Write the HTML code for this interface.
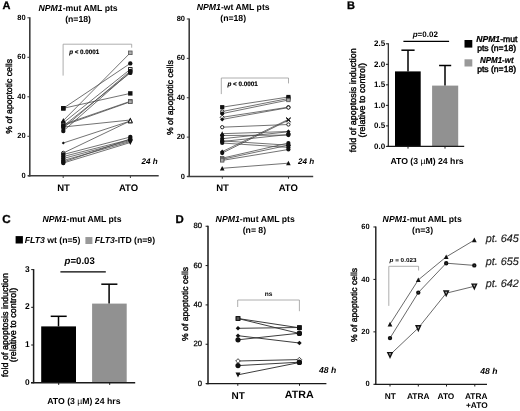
<!DOCTYPE html>
<html><head><meta charset="utf-8"><style>
html,body{margin:0;padding:0;background:#fff;}
svg{display:block;filter:grayscale(1);}
text{font-family:"Liberation Sans", sans-serif;text-rendering:geometricPrecision;}
</style></head><body>
<svg width="520" height="411" viewBox="0 0 520 411" font-family="Liberation Sans, sans-serif">
<rect width="520" height="411" fill="#fff"/>
<text x="2.5" y="8.6" font-size="11" font-weight="bold" text-anchor="start" fill="#000" stroke="#000" stroke-width="0.3">A</text>
<text x="347" y="8.8" font-size="11" font-weight="bold" text-anchor="start" fill="#000" stroke="#000" stroke-width="0.3">B</text>
<text x="2.2" y="222.5" font-size="11.6" font-weight="bold" text-anchor="start" fill="#000" stroke="#000" stroke-width="0.3">C</text>
<text x="175.5" y="222.6" font-size="11.4" font-weight="bold" text-anchor="start" fill="#000" stroke="#000" stroke-width="0.3">D</text>
<line x1="29.8" y1="17.3" x2="29.8" y2="176.4" stroke="#3c3c3c" stroke-width="1.6"/>
<line x1="27.4" y1="17.8" x2="29.8" y2="17.8" stroke="#3c3c3c" stroke-width="1"/>
<text x="25.6" y="19.9" font-size="7.5" font-weight="bold" text-anchor="end" fill="#000">80</text>
<line x1="27.4" y1="57.3" x2="29.8" y2="57.3" stroke="#3c3c3c" stroke-width="1"/>
<text x="25.6" y="59.4" font-size="7.5" font-weight="bold" text-anchor="end" fill="#000">60</text>
<line x1="27.4" y1="96.8" x2="29.8" y2="96.8" stroke="#3c3c3c" stroke-width="1"/>
<text x="25.6" y="98.9" font-size="7.5" font-weight="bold" text-anchor="end" fill="#000">40</text>
<line x1="27.4" y1="136.3" x2="29.8" y2="136.3" stroke="#3c3c3c" stroke-width="1"/>
<text x="25.6" y="138.4" font-size="7.5" font-weight="bold" text-anchor="end" fill="#000">20</text>
<line x1="27.4" y1="175.8" x2="29.8" y2="175.8" stroke="#3c3c3c" stroke-width="1"/>
<text x="25.6" y="177.9" font-size="7.5" font-weight="bold" text-anchor="end" fill="#000">0</text>
<line x1="28" y1="175.8" x2="158.7" y2="175.8" stroke="#3c3c3c" stroke-width="1.4"/>
<line x1="63.2" y1="175.8" x2="63.2" y2="178" stroke="#3c3c3c" stroke-width="1"/>
<line x1="130.4" y1="175.8" x2="130.4" y2="178" stroke="#3c3c3c" stroke-width="1"/>
<text transform="translate(12.4 96.3) rotate(-90)" x="0" y="0" font-size="8.7" font-weight="normal" text-anchor="middle" stroke="#000" stroke-width="0.38">% of apoptotic cells</text>
<text x="78.1" y="10.6" font-size="8.7" font-weight="bold" text-anchor="middle"><tspan font-style="italic">NPM1</tspan>-mut AML pts</text>
<text x="78.1" y="21.5" font-size="8.7" font-weight="bold" text-anchor="middle" fill="#000">(n=18)</text>
<polyline points="63.1,75.6 63.1,44.2 131.7,44.2 131.7,47.7" fill="none" stroke="#999" stroke-width="0.8"/>
<text x="69.2" y="54" font-size="6.4" font-weight="bold" stroke="#000" stroke-width="0.15" textLength="30" lengthAdjust="spacingAndGlyphs"><tspan font-style="italic">p</tspan> &lt; 0.0001</text>
<text x="141.5" y="164.4" font-size="8.1" font-weight="bold" text-anchor="start" font-style="italic" fill="#000">24 h</text>
<text x="63.5" y="190.5" font-size="9.5" font-weight="bold" text-anchor="middle" fill="#000">NT</text>
<text x="128.5" y="190.5" font-size="9.5" font-weight="bold" text-anchor="middle" fill="#000">ATO</text>
<line x1="63.3" y1="108.3" x2="130.3" y2="63.4" stroke="#444" stroke-width="0.75"/>
<line x1="63.3" y1="108.3" x2="130.3" y2="93.4" stroke="#444" stroke-width="0.75"/>
<line x1="63.3" y1="120.6" x2="130.3" y2="52.8" stroke="#444" stroke-width="0.75"/>
<line x1="63.3" y1="122.8" x2="130.3" y2="69.3" stroke="#444" stroke-width="0.75"/>
<line x1="63.3" y1="126" x2="130.3" y2="72.9" stroke="#444" stroke-width="0.75"/>
<line x1="63.3" y1="128" x2="130.3" y2="71" stroke="#444" stroke-width="0.75"/>
<line x1="63.3" y1="131" x2="130.3" y2="72" stroke="#444" stroke-width="0.75"/>
<line x1="63.3" y1="124.5" x2="130.3" y2="101.3" stroke="#444" stroke-width="0.75"/>
<line x1="63.3" y1="125.5" x2="130.3" y2="101.8" stroke="#444" stroke-width="0.75"/>
<line x1="63.3" y1="127" x2="130.3" y2="120" stroke="#444" stroke-width="0.75"/>
<line x1="63.3" y1="143" x2="130.3" y2="121" stroke="#444" stroke-width="0.75"/>
<line x1="63.3" y1="153" x2="130.3" y2="120.9" stroke="#444" stroke-width="0.75"/>
<line x1="63.3" y1="154.5" x2="130.3" y2="137" stroke="#444" stroke-width="0.75"/>
<line x1="63.3" y1="156.5" x2="130.3" y2="139.5" stroke="#444" stroke-width="0.75"/>
<line x1="63.3" y1="158.5" x2="130.3" y2="140.5" stroke="#444" stroke-width="0.75"/>
<line x1="63.3" y1="160.5" x2="130.3" y2="141.5" stroke="#444" stroke-width="0.75"/>
<line x1="63.3" y1="162" x2="130.3" y2="139" stroke="#444" stroke-width="0.75"/>
<line x1="63.3" y1="163" x2="130.3" y2="142.5" stroke="#444" stroke-width="0.75"/>
<rect x="61.1" y="106.1" width="4.4" height="4.4" fill="#111"/>
<circle cx="130.3" cy="63.4" r="2.2" fill="#111"/>
<rect x="61.1" y="106.1" width="4.4" height="4.4" fill="#111"/>
<rect x="128.1" y="91.2" width="4.4" height="4.4" fill="#111"/>
<polygon points="63.3,118.1 60.9,122.8 65.7,122.8" fill="#111"/>
<rect x="128.5" y="51" width="3.6" height="3.6" fill="#aaa" stroke="#555" stroke-width="0.8"/>
<circle cx="63.3" cy="122.8" r="2.2" fill="#111"/>
<rect x="128.55" y="67.55" width="3.5" height="3.5" fill="#fff" stroke="#111" stroke-width="0.9"/>
<circle cx="63.3" cy="126" r="2.2" fill="#111"/>
<circle cx="130.3" cy="72.9" r="2.2" fill="#111"/>
<circle cx="63.3" cy="128" r="2.2" fill="#111"/>
<circle cx="130.3" cy="71" r="2.2" fill="#111"/>
<circle cx="63.3" cy="131" r="2.2" fill="#111"/>
<circle cx="130.3" cy="72" r="2.2" fill="#111"/>
<circle cx="63.3" cy="124.5" r="1.75" fill="#fff" stroke="#111" stroke-width="0.9"/>
<rect x="128.5" y="99.5" width="3.6" height="3.6" fill="#aaa" stroke="#555" stroke-width="0.8"/>
<circle cx="63.3" cy="125.5" r="2.2" fill="#111"/>
<rect x="128.5" y="100" width="3.6" height="3.6" fill="#aaa" stroke="#555" stroke-width="0.8"/>
<polygon points="63.3,124.8 65.5,127 63.3,129.2 61.1,127" fill="#111"/>
<polygon points="130.3,117.5 127.9,122.2 132.7,122.2" fill="#111"/>
<polygon points="63.3,141.46 64.84,143 63.3,144.54 61.76,143" fill="#111"/>
<polygon points="130.3,118.5 127.9,123.2 132.7,123.2" fill="#111"/>
<circle cx="63.3" cy="153" r="1.75" fill="#fff" stroke="#111" stroke-width="0.9"/>
<polygon points="130.3,118.7 128.3,122.8 132.3,122.8" fill="#fff" stroke="#111" stroke-width="0.9"/>
<circle cx="63.3" cy="154.5" r="2.2" fill="#111"/>
<circle cx="130.3" cy="137" r="2.2" fill="#111"/>
<circle cx="63.3" cy="156.5" r="2.2" fill="#111"/>
<polygon points="130.3,137.3 132.5,139.5 130.3,141.7 128.1,139.5" fill="#111"/>
<circle cx="63.3" cy="158.5" r="2.2" fill="#111"/>
<polygon points="130.3,138.3 132.5,140.5 130.3,142.7 128.1,140.5" fill="#111"/>
<circle cx="63.3" cy="160.5" r="2.2" fill="#111"/>
<polygon points="130.3,144 127.9,139.3 132.7,139.3" fill="#111"/>
<circle cx="63.3" cy="162" r="2.2" fill="#111"/>
<circle cx="130.3" cy="139" r="2.2" fill="#111"/>
<circle cx="63.3" cy="163" r="2.2" fill="#111"/>
<polygon points="130.3,145 127.9,140.3 132.7,140.3" fill="#111"/>
<line x1="189.2" y1="18.48" x2="189.2" y2="177.1" stroke="#3c3c3c" stroke-width="1.6"/>
<line x1="186.8" y1="18.98" x2="189.2" y2="18.98" stroke="#3c3c3c" stroke-width="1"/>
<text x="185" y="21.08" font-size="7.5" font-weight="bold" text-anchor="end" fill="#000">80</text>
<line x1="186.8" y1="58.36" x2="189.2" y2="58.36" stroke="#3c3c3c" stroke-width="1"/>
<text x="185" y="60.46" font-size="7.5" font-weight="bold" text-anchor="end" fill="#000">60</text>
<line x1="186.8" y1="97.74" x2="189.2" y2="97.74" stroke="#3c3c3c" stroke-width="1"/>
<text x="185" y="99.84" font-size="7.5" font-weight="bold" text-anchor="end" fill="#000">40</text>
<line x1="186.8" y1="137.12" x2="189.2" y2="137.12" stroke="#3c3c3c" stroke-width="1"/>
<text x="185" y="139.22" font-size="7.5" font-weight="bold" text-anchor="end" fill="#000">20</text>
<line x1="186.8" y1="176.5" x2="189.2" y2="176.5" stroke="#3c3c3c" stroke-width="1"/>
<text x="185" y="178.6" font-size="7.5" font-weight="bold" text-anchor="end" fill="#000">0</text>
<line x1="187.2" y1="176.5" x2="313.2" y2="176.5" stroke="#3c3c3c" stroke-width="1.4"/>
<line x1="222.3" y1="176.5" x2="222.3" y2="178.7" stroke="#3c3c3c" stroke-width="1"/>
<line x1="288.5" y1="176.5" x2="288.5" y2="178.7" stroke="#3c3c3c" stroke-width="1"/>
<text transform="translate(172.8 97.6) rotate(-90)" x="0" y="0" font-size="8.7" font-weight="normal" text-anchor="middle" stroke="#000" stroke-width="0.38">% of apoptotic cells</text>
<text x="233.2" y="10" font-size="8.7" font-weight="bold" text-anchor="middle"><tspan font-style="italic">NPM1</tspan>-wt AML pts</text>
<text x="233.2" y="20.8" font-size="8.7" font-weight="bold" text-anchor="middle" fill="#000">(n=18)</text>
<polyline points="221.3,94.1 221.3,78 288.5,78 288.5,83.4" fill="none" stroke="#999" stroke-width="0.8"/>
<text x="227.4" y="86" font-size="6.4" font-weight="bold" stroke="#000" stroke-width="0.15" textLength="30.4" lengthAdjust="spacingAndGlyphs"><tspan font-style="italic">p</tspan> &lt; 0.0001</text>
<text x="298" y="164" font-size="8.1" font-weight="bold" text-anchor="start" font-style="italic" fill="#000">24 h</text>
<text x="222.5" y="190.5" font-size="9.5" font-weight="bold" text-anchor="middle" fill="#000">NT</text>
<text x="288.3" y="190.5" font-size="9.5" font-weight="bold" text-anchor="middle" fill="#000">ATO</text>
<line x1="222.2" y1="107.2" x2="288.4" y2="97" stroke="#444" stroke-width="0.75"/>
<line x1="222.2" y1="111.5" x2="288.4" y2="98.5" stroke="#444" stroke-width="0.75"/>
<line x1="222.2" y1="113.6" x2="288.4" y2="100" stroke="#444" stroke-width="0.75"/>
<line x1="222.2" y1="117.3" x2="288.4" y2="107.2" stroke="#444" stroke-width="0.75"/>
<line x1="222.2" y1="119.4" x2="288.4" y2="107.6" stroke="#444" stroke-width="0.75"/>
<line x1="222.2" y1="127.2" x2="288.4" y2="124.5" stroke="#444" stroke-width="0.75"/>
<line x1="222.2" y1="133.7" x2="288.4" y2="131.5" stroke="#444" stroke-width="0.75"/>
<line x1="222.2" y1="135.5" x2="288.4" y2="135.1" stroke="#444" stroke-width="0.75"/>
<line x1="222.2" y1="138.7" x2="288.4" y2="131.8" stroke="#444" stroke-width="0.75"/>
<line x1="222.2" y1="140.9" x2="288.4" y2="145.2" stroke="#444" stroke-width="0.75"/>
<line x1="222.2" y1="143" x2="288.4" y2="147.4" stroke="#444" stroke-width="0.75"/>
<line x1="222.2" y1="151.7" x2="288.4" y2="119.4" stroke="#444" stroke-width="0.75"/>
<line x1="222.2" y1="153.1" x2="288.4" y2="120.2" stroke="#444" stroke-width="0.75"/>
<line x1="222.2" y1="158.2" x2="288.4" y2="143" stroke="#444" stroke-width="0.75"/>
<line x1="222.2" y1="159.3" x2="288.4" y2="145.2" stroke="#444" stroke-width="0.75"/>
<line x1="222.2" y1="160.4" x2="288.4" y2="149.5" stroke="#444" stroke-width="0.75"/>
<line x1="222.2" y1="168.3" x2="288.4" y2="163.2" stroke="#444" stroke-width="0.75"/>
<line x1="222.2" y1="141.5" x2="288.4" y2="134.5" stroke="#444" stroke-width="0.75"/>
<rect x="220.1" y="105.1" width="4.2" height="4.2" fill="#111"/>
<rect x="286.3" y="94.9" width="4.2" height="4.2" fill="#111"/>
<circle cx="222.2" cy="111.5" r="1.65" fill="#fff" stroke="#111" stroke-width="0.9"/>
<rect x="286.3" y="96.4" width="4.2" height="4.2" fill="#111"/>
<circle cx="222.2" cy="113.6" r="2.1" fill="#111"/>
<rect x="286.7" y="98.3" width="3.4" height="3.4" fill="#aaa" stroke="#555" stroke-width="0.8"/>
<polygon points="222.2,115.2 224.3,117.3 222.2,119.4 220.1,117.3" fill="#fff" stroke="#111" stroke-width="0.8"/>
<circle cx="288.4" cy="107.2" r="1.65" fill="#fff" stroke="#111" stroke-width="0.9"/>
<polygon points="222.2,117.3 224.3,119.4 222.2,121.5 220.1,119.4" fill="#111"/>
<circle cx="288.4" cy="107.6" r="1.65" fill="#fff" stroke="#111" stroke-width="0.9"/>
<circle cx="222.2" cy="127.2" r="1.65" fill="#fff" stroke="#111" stroke-width="0.9"/>
<circle cx="288.4" cy="124.5" r="1.65" fill="#fff" stroke="#111" stroke-width="0.9"/>
<polygon points="222.2,131.3 219.9,135.8 224.5,135.8" fill="#111"/>
<polygon points="288.4,129.4 290.5,131.5 288.4,133.6 286.3,131.5" fill="#111"/>
<circle cx="222.2" cy="135.5" r="2.1" fill="#111"/>
<circle cx="288.4" cy="135.1" r="2.1" fill="#111"/>
<circle cx="222.2" cy="138.7" r="2.1" fill="#111"/>
<polygon points="288.4,129.4 286.1,133.9 290.7,133.9" fill="#111"/>
<circle cx="222.2" cy="140.9" r="2.1" fill="#111"/>
<circle cx="288.4" cy="145.2" r="2.1" fill="#111"/>
<circle cx="222.2" cy="143" r="2.1" fill="#111"/>
<circle cx="288.4" cy="147.4" r="2.1" fill="#111"/>
<polygon points="222.2,149.6 224.3,151.7 222.2,153.8 220.1,151.7" fill="#111"/>
<path d="M286.3 117.3l4.2 4.2M286.3 121.5l4.2 -4.2" stroke="#111" stroke-width="1"/>
<circle cx="222.2" cy="153.1" r="2.1" fill="#111"/>
<path d="M286.3 118.1l4.2 4.2M286.3 122.3l4.2 -4.2" stroke="#111" stroke-width="1"/>
<rect x="220.5" y="156.5" width="3.4" height="3.4" fill="#aaa" stroke="#555" stroke-width="0.8"/>
<circle cx="288.4" cy="143" r="2.1" fill="#111"/>
<rect x="220.5" y="157.6" width="3.4" height="3.4" fill="#aaa" stroke="#555" stroke-width="0.8"/>
<circle cx="288.4" cy="145.2" r="2.1" fill="#111"/>
<rect x="220.5" y="158.7" width="3.4" height="3.4" fill="#aaa" stroke="#555" stroke-width="0.8"/>
<circle cx="288.4" cy="149.5" r="2.1" fill="#111"/>
<polygon points="222.2,165.9 219.9,170.4 224.5,170.4" fill="#111"/>
<polygon points="288.4,160.8 286.1,165.3 290.7,165.3" fill="#111"/>
<circle cx="222.2" cy="141.5" r="2.1" fill="#111"/>
<circle cx="288.4" cy="134.5" r="2.1" fill="#111"/>
<line x1="388.3" y1="43.3" x2="388.3" y2="147" stroke="#1a1a1a" stroke-width="1.15"/>
<line x1="385.9" y1="43.8" x2="388.3" y2="43.8" stroke="#1a1a1a" stroke-width="1"/>
<text x="385.2" y="46.08" font-size="8" font-weight="bold" text-anchor="end" fill="#000">2.5</text>
<line x1="385.9" y1="64.32" x2="388.3" y2="64.32" stroke="#1a1a1a" stroke-width="1"/>
<text x="385.2" y="66.6" font-size="8" font-weight="bold" text-anchor="end" fill="#000">2.0</text>
<line x1="385.9" y1="84.84" x2="388.3" y2="84.84" stroke="#1a1a1a" stroke-width="1"/>
<text x="385.2" y="87.12" font-size="8" font-weight="bold" text-anchor="end" fill="#000">1.5</text>
<line x1="385.9" y1="105.36" x2="388.3" y2="105.36" stroke="#1a1a1a" stroke-width="1"/>
<text x="385.2" y="107.64" font-size="8" font-weight="bold" text-anchor="end" fill="#000">1.0</text>
<line x1="385.9" y1="125.88" x2="388.3" y2="125.88" stroke="#1a1a1a" stroke-width="1"/>
<text x="385.2" y="128.16" font-size="8" font-weight="bold" text-anchor="end" fill="#000">0.5</text>
<line x1="385.9" y1="146.4" x2="388.3" y2="146.4" stroke="#1a1a1a" stroke-width="1"/>
<text x="385.2" y="148.68" font-size="8" font-weight="bold" text-anchor="end" fill="#000">0.0</text>
<rect x="395" y="71.4" width="25.7" height="75" fill="#000"/>
<rect x="432.1" y="85.6" width="26.1" height="60.8" fill="#919191"/>
<line x1="387.3" y1="146.4" x2="464.2" y2="146.4" stroke="#1a1a1a" stroke-width="1.2"/>
<line x1="408" y1="146.4" x2="408" y2="148.6" stroke="#1a1a1a" stroke-width="1"/>
<line x1="445" y1="146.4" x2="445" y2="148.6" stroke="#1a1a1a" stroke-width="1"/>
<line x1="408" y1="71.4" x2="408" y2="50.2" stroke="#000" stroke-width="1.5"/>
<line x1="401.4" y1="50.2" x2="414.6" y2="50.2" stroke="#000" stroke-width="1.5"/>
<line x1="445" y1="85.6" x2="445" y2="65.5" stroke="#000" stroke-width="1.5"/>
<line x1="439.1" y1="65.5" x2="451.2" y2="65.5" stroke="#000" stroke-width="1.5"/>
<line x1="403.4" y1="41.4" x2="449.1" y2="41.4" stroke="#000" stroke-width="1.2"/>
<text x="425.3" y="36.5" font-size="8" font-weight="bold" text-anchor="middle"><tspan font-style="italic">p</tspan>=0.02</text>
<text transform="translate(356 100.2) rotate(-90)" x="0" y="0" font-size="9" font-weight="normal" text-anchor="middle" stroke="#000" stroke-width="0.38">fold of apoptosis induction</text>
<text transform="translate(364.6 100.2) rotate(-90)" x="0" y="0" font-size="9" font-weight="normal" text-anchor="middle" stroke="#000" stroke-width="0.38">(relative to control)</text>
<text x="427" y="163.6" font-size="8.7" font-weight="bold" text-anchor="middle" fill="#000">ATO (3 <tspan font-weight="normal">µ</tspan>M) 24 hrs</text>
<rect x="464.5" y="40" width="7.8" height="7.6" fill="#000"/>
<rect x="464.5" y="59.3" width="7.8" height="7.2" fill="#999"/>
<text x="496.8" y="41.5" font-size="8.6" text-anchor="middle"><tspan font-weight="bold" font-style="italic" stroke="#000" stroke-width="0.2">NPM1</tspan><tspan stroke="#000" stroke-width="0.45">-mut</tspan></text>
<text x="496.6" y="50.8" font-size="8.6" font-weight="normal" text-anchor="middle" fill="#000" stroke="#000" stroke-width="0.45">pts (n=18)</text>
<text x="496.8" y="62.8" font-size="8.6" text-anchor="middle" font-weight="bold" font-style="italic" stroke="#000" stroke-width="0.2" textLength="33.6" lengthAdjust="spacingAndGlyphs">NPM1-wt</text>
<text x="496.6" y="72.1" font-size="8.6" font-weight="normal" text-anchor="middle" fill="#000" stroke="#000" stroke-width="0.45">pts (n=18)</text>
<line x1="33.6" y1="269.1" x2="33.6" y2="383.3" stroke="#1a1a1a" stroke-width="1.5"/>
<line x1="31.2" y1="269.6" x2="33.6" y2="269.6" stroke="#1a1a1a" stroke-width="1"/>
<text x="29.6" y="271.62" font-size="8.4" font-weight="bold" text-anchor="end" fill="#000">3</text>
<line x1="31.2" y1="307.3" x2="33.6" y2="307.3" stroke="#1a1a1a" stroke-width="1"/>
<text x="29.6" y="309.32" font-size="8.4" font-weight="bold" text-anchor="end" fill="#000">2</text>
<line x1="31.2" y1="345" x2="33.6" y2="345" stroke="#1a1a1a" stroke-width="1"/>
<text x="29.6" y="347.02" font-size="8.4" font-weight="bold" text-anchor="end" fill="#000">1</text>
<line x1="31.2" y1="382.7" x2="33.6" y2="382.7" stroke="#1a1a1a" stroke-width="1"/>
<text x="29.6" y="384.72" font-size="8.4" font-weight="bold" text-anchor="end" fill="#000">0</text>
<rect x="41.2" y="326.4" width="34.8" height="56.3" fill="#000"/>
<rect x="92.1" y="303.6" width="34.6" height="79.1" fill="#919191"/>
<line x1="31" y1="382.7" x2="135.2" y2="382.7" stroke="#1a1a1a" stroke-width="1.4"/>
<line x1="58.7" y1="382.7" x2="58.7" y2="384.9" stroke="#1a1a1a" stroke-width="1"/>
<line x1="109.7" y1="382.7" x2="109.7" y2="384.9" stroke="#1a1a1a" stroke-width="1"/>
<line x1="58.5" y1="326.4" x2="58.5" y2="316.3" stroke="#000" stroke-width="1.5"/>
<line x1="50.7" y1="316.3" x2="66.7" y2="316.3" stroke="#000" stroke-width="1.5"/>
<line x1="109.1" y1="303.6" x2="109.1" y2="284.2" stroke="#000" stroke-width="1.5"/>
<line x1="101.3" y1="284.2" x2="117.4" y2="284.2" stroke="#000" stroke-width="1.5"/>
<line x1="60.4" y1="271.9" x2="105.8" y2="271.9" stroke="#000" stroke-width="1.2"/>
<text x="79.7" y="263.8" font-size="9.6" font-weight="bold" text-anchor="middle"><tspan font-style="italic">p</tspan>=0.03</text>
<text transform="translate(7.8 325) rotate(-90)" x="0" y="0" font-size="9" font-weight="normal" text-anchor="middle" stroke="#000" stroke-width="0.38">fold of apoptosis induction</text>
<text transform="translate(16.1 325) rotate(-90)" x="0" y="0" font-size="9" font-weight="normal" text-anchor="middle" stroke="#000" stroke-width="0.38">(relative to control)</text>
<text x="83.85" y="404" font-size="8.7" font-weight="bold" text-anchor="middle" fill="#000">ATO (3 <tspan font-weight="normal">µ</tspan>M) 24 hrs</text>
<text x="82" y="221.6" font-size="8.7" font-weight="bold" text-anchor="middle"><tspan font-style="italic">NPM1</tspan>-mut AML pts</text>
<rect x="15.6" y="236.1" width="7.3" height="7.4" fill="#000"/>
<text x="24.7" y="243.2" font-size="8.7" font-weight="bold"><tspan font-style="italic">FLT3</tspan> wt (n=5)</text>
<rect x="85.4" y="237" width="7" height="7" fill="#999"/>
<text x="94.7" y="243.3" font-size="8.7" font-weight="bold"><tspan font-style="italic">FLT3</tspan>-ITD (n=9)</text>
<line x1="208" y1="225.74" x2="208" y2="384.2" stroke="#1a1a1a" stroke-width="1.5"/>
<line x1="205.6" y1="226.24" x2="208" y2="226.24" stroke="#1a1a1a" stroke-width="1"/>
<text x="202" y="228.41" font-size="7.7" font-weight="normal" text-anchor="end" fill="#000" stroke="#000" stroke-width="0.25">80</text>
<line x1="205.6" y1="265.58" x2="208" y2="265.58" stroke="#1a1a1a" stroke-width="1"/>
<text x="202" y="267.75" font-size="7.7" font-weight="normal" text-anchor="end" fill="#000" stroke="#000" stroke-width="0.25">60</text>
<line x1="205.6" y1="304.92" x2="208" y2="304.92" stroke="#1a1a1a" stroke-width="1"/>
<text x="202" y="307.09" font-size="7.7" font-weight="normal" text-anchor="end" fill="#000" stroke="#000" stroke-width="0.25">40</text>
<line x1="205.6" y1="344.26" x2="208" y2="344.26" stroke="#1a1a1a" stroke-width="1"/>
<text x="202" y="346.43" font-size="7.7" font-weight="normal" text-anchor="end" fill="#000" stroke="#000" stroke-width="0.25">20</text>
<line x1="205.6" y1="383.6" x2="208" y2="383.6" stroke="#1a1a1a" stroke-width="1"/>
<text x="202" y="385.77" font-size="7.7" font-weight="normal" text-anchor="end" fill="#000" stroke="#000" stroke-width="0.25">0</text>
<line x1="206" y1="383.6" x2="326.4" y2="383.6" stroke="#1a1a1a" stroke-width="1.2"/>
<line x1="237.8" y1="383.6" x2="237.8" y2="385.8" stroke="#1a1a1a" stroke-width="1"/>
<line x1="299.5" y1="383.6" x2="299.5" y2="385.8" stroke="#1a1a1a" stroke-width="1"/>
<text transform="translate(187.8 303.9) rotate(-90)" x="0" y="0" font-size="8.6" font-weight="normal" text-anchor="middle" stroke="#000" stroke-width="0.38">% of apoptotic cells</text>
<text x="255.2" y="221.8" font-size="8.7" font-weight="bold" text-anchor="middle"><tspan font-style="italic">NPM1</tspan>-mut AML pts</text>
<text x="254.4" y="232.5" font-size="8.7" font-weight="bold" text-anchor="middle" fill="#000">(n= 8)</text>
<polyline points="237.7,307 237.7,300 299.4,300 299.4,311.2" fill="none" stroke="#999" stroke-width="0.8"/>
<text x="268.7" y="296.4" font-size="6.6" font-weight="bold" text-anchor="middle" fill="#000">ns</text>
<text x="319" y="372.7" font-size="8.6" font-weight="bold" text-anchor="start" font-style="italic" fill="#000">48 h</text>
<text x="238.2" y="398.5" font-size="10" font-weight="bold" text-anchor="middle" fill="#000">NT</text>
<text x="299.2" y="398.2" font-size="10.7" font-weight="bold" text-anchor="middle" fill="#000">ATRA</text>
<line x1="238" y1="318.5" x2="299.4" y2="327.8" stroke="#333" stroke-width="0.95"/>
<line x1="238" y1="318.5" x2="299.4" y2="333.5" stroke="#333" stroke-width="0.95"/>
<line x1="238" y1="328.3" x2="299.4" y2="327.5" stroke="#333" stroke-width="0.95"/>
<line x1="238" y1="335.7" x2="299.4" y2="343" stroke="#333" stroke-width="0.95"/>
<line x1="238" y1="339.8" x2="299.4" y2="333.2" stroke="#333" stroke-width="0.95"/>
<line x1="238" y1="361" x2="299.4" y2="359.6" stroke="#333" stroke-width="0.95"/>
<line x1="238" y1="365.6" x2="299.4" y2="362.2" stroke="#333" stroke-width="0.95"/>
<line x1="238" y1="374.8" x2="299.4" y2="362.5" stroke="#333" stroke-width="0.95"/>
<rect x="236.15" y="316.65" width="3.7" height="3.7" fill="#555" stroke="#111" stroke-width="0.9"/>
<rect x="297.1" y="325.5" width="4.6" height="4.6" fill="#111"/>
<rect x="236.15" y="316.65" width="3.7" height="3.7" fill="#555" stroke="#111" stroke-width="0.9"/>
<circle cx="299.4" cy="333.5" r="2.6" fill="#111"/>
<polygon points="238,326 240.3,328.3 238,330.6 235.7,328.3" fill="#111"/>
<rect x="297.1" y="325.2" width="4.6" height="4.6" fill="#111"/>
<polygon points="238,333.4 240.3,335.7 238,338 235.7,335.7" fill="#111"/>
<polygon points="299.4,340.7 301.7,343 299.4,345.3 297.1,343" fill="#111"/>
<circle cx="238" cy="339.8" r="2.6" fill="#111"/>
<circle cx="299.4" cy="333.2" r="2.6" fill="#111"/>
<polygon points="238,358.7 240.3,361 238,363.3 235.7,361" fill="#fff" stroke="#111" stroke-width="0.8"/>
<polygon points="299.4,357.3 301.7,359.6 299.4,361.9 297.1,359.6" fill="#fff" stroke="#111" stroke-width="0.8"/>
<circle cx="238" cy="365.6" r="2.6" fill="#111"/>
<circle cx="299.4" cy="362.2" r="2.6" fill="#111"/>
<polygon points="238,377.4 235.5,372.5 240.5,372.5" fill="#111"/>
<circle cx="299.4" cy="362.5" r="2.6" fill="#111"/>
<line x1="375.8" y1="226.48" x2="375.8" y2="384.9" stroke="#1a1a1a" stroke-width="1.4"/>
<line x1="373.4" y1="226.98" x2="375.8" y2="226.98" stroke="#1a1a1a" stroke-width="1"/>
<text x="369.6" y="229.08" font-size="7.5" font-weight="bold" text-anchor="end" fill="#000">60</text>
<line x1="373.4" y1="279.42" x2="375.8" y2="279.42" stroke="#1a1a1a" stroke-width="1"/>
<text x="369.6" y="281.52" font-size="7.5" font-weight="bold" text-anchor="end" fill="#000">40</text>
<line x1="373.4" y1="331.86" x2="375.8" y2="331.86" stroke="#1a1a1a" stroke-width="1"/>
<text x="369.6" y="333.96" font-size="7.5" font-weight="bold" text-anchor="end" fill="#000">20</text>
<line x1="373.4" y1="384.3" x2="375.8" y2="384.3" stroke="#1a1a1a" stroke-width="1"/>
<text x="369.6" y="386.4" font-size="7.5" font-weight="bold" text-anchor="end" fill="#000">0</text>
<line x1="374.6" y1="384.3" x2="487" y2="384.3" stroke="#1a1a1a" stroke-width="1.2"/>
<line x1="390" y1="384.3" x2="390" y2="386.5" stroke="#1a1a1a" stroke-width="1"/>
<line x1="418.3" y1="384.3" x2="418.3" y2="386.5" stroke="#1a1a1a" stroke-width="1"/>
<line x1="446.5" y1="384.3" x2="446.5" y2="386.5" stroke="#1a1a1a" stroke-width="1"/>
<line x1="474.8" y1="384.3" x2="474.8" y2="386.5" stroke="#1a1a1a" stroke-width="1"/>
<text transform="translate(356.5 304.9) rotate(-90)" x="0" y="0" font-size="8.6" font-weight="normal" text-anchor="middle" stroke="#000" stroke-width="0.38">% of apoptotic cells</text>
<text x="422.2" y="221.5" font-size="8.7" font-weight="bold" text-anchor="middle"><tspan font-style="italic">NPM1</tspan>-mut AML pts</text>
<text x="422.6" y="232.7" font-size="8.7" font-weight="bold" text-anchor="middle" fill="#000">(n=3)</text>
<polyline points="388.8,305.9 388.8,266.3 418.6,266.3 418.6,270.5" fill="none" stroke="#999" stroke-width="0.8"/>
<text x="389.5" y="262.2" font-size="5.8" font-weight="bold" textLength="27" lengthAdjust="spacingAndGlyphs"><tspan font-style="italic">p</tspan> = 0.023</text>
<text x="480.3" y="373.5" font-size="8.6" font-weight="bold" text-anchor="start" font-style="italic" fill="#000">48 h</text>
<text x="390.2" y="398.7" font-size="8.3" font-weight="bold" text-anchor="middle" fill="#000">NT</text>
<text x="418.2" y="398.7" font-size="8.3" font-weight="bold" text-anchor="middle" fill="#000">ATRA</text>
<text x="445.9" y="398.7" font-size="8.3" font-weight="bold" text-anchor="middle" fill="#000">ATO</text>
<text x="476.2" y="398.7" font-size="8.3" font-weight="bold" text-anchor="middle" fill="#000">ATRA</text>
<text x="476.8" y="408.1" font-size="8.3" font-weight="bold" text-anchor="middle" fill="#000">+ATO</text>
<polyline points="390,324.2 418.3,279.9 446.2,256.9 474.3,240.1" fill="none" stroke="#444" stroke-width="0.8"/>
<polyline points="390,338.1 418.3,292.6 446.2,263.2 474.3,265.4" fill="none" stroke="#444" stroke-width="0.8"/>
<polyline points="390,354.8 418.3,328 446.2,293.2 474.3,286.3" fill="none" stroke="#444" stroke-width="0.8"/>
<polygon points="390,321.7 387.6,326.4 392.4,326.4" fill="#111"/>
<circle cx="390" cy="338.1" r="1.35" fill="#555" stroke="#111" stroke-width="1.7"/>
<polygon points="390,357.3 387.8,352.6 392.2,352.6" fill="#aaa" stroke="#111" stroke-width="1.4" stroke-linejoin="miter"/>
<polygon points="418.3,277.4 415.9,282.1 420.7,282.1" fill="#111"/>
<circle cx="418.3" cy="292.6" r="1.35" fill="#555" stroke="#111" stroke-width="1.7"/>
<polygon points="418.3,330.5 416.1,325.8 420.5,325.8" fill="#aaa" stroke="#111" stroke-width="1.4" stroke-linejoin="miter"/>
<polygon points="446.2,254.4 443.8,259.1 448.6,259.1" fill="#111"/>
<circle cx="446.2" cy="263.2" r="1.35" fill="#555" stroke="#111" stroke-width="1.7"/>
<polygon points="446.2,295.7 444,291 448.4,291" fill="#aaa" stroke="#111" stroke-width="1.4" stroke-linejoin="miter"/>
<polygon points="474.3,237.6 471.9,242.3 476.7,242.3" fill="#111"/>
<circle cx="474.3" cy="265.4" r="1.35" fill="#555" stroke="#111" stroke-width="1.7"/>
<polygon points="474.3,288.8 472.1,284.1 476.5,284.1" fill="#aaa" stroke="#111" stroke-width="1.4" stroke-linejoin="miter"/>
<text x="485.7" y="241.5" font-size="10.8" font-weight="normal" text-anchor="start" font-style="italic" fill="#1a1a1a" stroke="#1a1a1a" stroke-width="0.15">pt. 645</text>
<text x="485.7" y="264.5" font-size="10.8" font-weight="normal" text-anchor="start" font-style="italic" fill="#1a1a1a" stroke="#1a1a1a" stroke-width="0.15">pt. 655</text>
<text x="485.7" y="286.7" font-size="10.8" font-weight="normal" text-anchor="start" font-style="italic" fill="#1a1a1a" stroke="#1a1a1a" stroke-width="0.15">pt. 642</text>
</svg>
</body></html>
